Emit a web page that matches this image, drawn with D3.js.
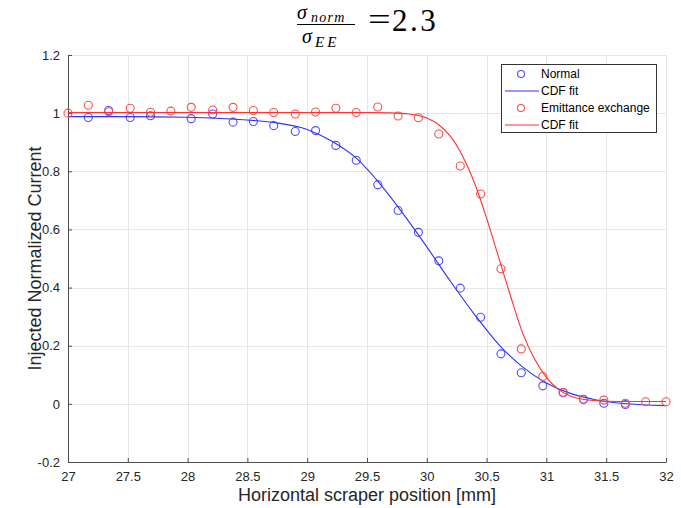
<!DOCTYPE html>
<html>
<head>
<meta charset="utf-8">
<script src="https://cdn.jsdelivr.net/npm/d3@7"></script>
<style>
  html, body { margin: 0; padding: 0; background: #fff; }
  svg { display: block; }
</style>
</head>
<body>
<svg id="chart" width="681" height="508"></svg>
<script>
// ---------- data ----------
const xTicks = [27, 27.5, 28, 28.5, 29, 29.5, 30, 30.5, 31, 31.5, 32];
const xTickLabels = ["27", "27.5", "28", "28.5", "29", "29.5", "30", "30.5", "31", "31.5", "32"];
const yTicks = [-0.2, 0, 0.2, 0.4, 0.6, 0.8, 1, 1.2];
const yTickLabels = ["-0.2", "0", "0.2", "0.4", "0.6", "0.8", "1", "1.2"];

// Normal (blue circles)
const normalX = [27.17, 27.34, 27.52, 27.69, 28.03, 28.21, 28.38, 28.55, 28.72, 28.9, 29.07, 29.24, 29.41,
                 29.59, 29.76, 29.93, 30.1, 30.28, 30.45, 30.62, 30.79, 30.97, 31.14, 31.31, 31.48, 31.66];
const normalY = [0.985, 1.009, 0.985, 0.991, 0.981, 0.997, 0.969, 0.971, 0.957, 0.937, 0.940, 0.889, 0.838,
                 0.754, 0.665, 0.590, 0.492, 0.398, 0.298, 0.172, 0.107, 0.062, 0.038, 0.016, 0.002, -0.002];

// Normal CDF fit (blue line)
const normalFitX = [27.0, 27.5, 28.0, 28.4, 28.72, 29.0, 29.2, 29.41, 29.6, 29.8, 30.0, 30.2, 30.4,
                    30.6, 30.8, 31.0, 31.2, 31.4, 31.6, 31.8, 32.0];
const normalFitY = [0.988, 0.988, 0.986, 0.979, 0.968, 0.944, 0.905, 0.845, 0.761, 0.655, 0.540, 0.420, 0.307,
                    0.205, 0.127, 0.072, 0.036, 0.015, 0.003, -0.003, -0.006];

// Emittance exchange (red circles)
const eeX = [27, 27.17, 27.34, 27.52, 27.69, 27.86, 28.03, 28.21, 28.38, 28.55, 28.72, 28.9, 29.07, 29.24, 29.41,
             29.59, 29.76, 29.93, 30.1, 30.28, 30.45, 30.62, 30.79, 30.97, 31.14, 31.31, 31.48, 31.66, 31.83, 32];
const eeY = [1.000, 1.027, 1.005, 1.017, 1.003, 1.007, 1.020, 1.011, 1.020, 1.009, 1.002, 0.997, 1.004, 1.017, 1.002,
             1.021, 0.990, 0.984, 0.928, 0.818, 0.722, 0.465, 0.189, 0.094, 0.040, 0.015, 0.013, 0.002, 0.007, 0.007];

// Emittance exchange CDF fit (red line)
const eeFitX = [27.0, 28.0, 29.0, 29.5, 29.7, 29.85, 30.0, 30.1, 30.2, 30.3, 30.4, 30.5, 30.6, 30.7,
                30.8, 30.9, 31.0, 31.1, 31.2, 31.35, 31.5, 31.75, 32.0];
const eeFitY = [1.002, 1.002, 1.002, 1.002, 1.001, 0.997, 0.983, 0.960, 0.919, 0.852, 0.759, 0.639, 0.505, 0.371,
                0.245, 0.155, 0.091, 0.050, 0.027, 0.013, 0.009, 0.008, 0.008];

const legendLabels = ["Normal", "CDF fit", "Emittance exchange", "CDF fit"];

// ---------- layout ----------
const W = 681, H = 508;
const m = { left: 68, right: W - 666, top: 55, bottom: H - 462 };
const blue = "#3030ff", red = "#ff3030";
const blueMk = "#4d4dff", redMk = "#ff4d4d";

const svg = d3.select("#chart");
svg.append("rect").attr("width", W).attr("height", H).attr("fill", "#fff");

const x = d3.scaleLinear().domain([27, 32]).range([m.left, W - m.right]);
const y = d3.scaleLinear().domain([-0.2, 1.2]).range([H - m.bottom, m.top]);

// grid
const grid = svg.append("g").attr("stroke", "#e6e6e6").attr("stroke-width", 1);
xTicks.forEach(t => grid.append("line")
  .attr("x1", Math.round(x(t)) + 0.5).attr("x2", Math.round(x(t)) + 0.5)
  .attr("y1", y(1.2)).attr("y2", y(-0.2)));
yTicks.forEach(t => grid.append("line")
  .attr("y1", Math.round(y(t)) + 0.5).attr("y2", Math.round(y(t)) + 0.5)
  .attr("x1", x(27)).attr("x2", x(32)));

// axes
const axisColor = "#4d4d4d";
const xAxis = d3.axisBottom(x).tickValues(xTicks).tickFormat((d, i) => xTickLabels[i])
  .tickSizeInner(-4).tickSizeOuter(0).tickPadding(10);
const yAxis = d3.axisLeft(y).tickValues(yTicks).tickFormat((d, i) => yTickLabels[i])
  .tickSizeInner(-4).tickSizeOuter(0).tickPadding(8);

const gx = svg.append("g").attr("transform", `translate(0,${H - m.bottom})`).call(xAxis);
const gy = svg.append("g").attr("transform", `translate(${m.left},0)`).call(yAxis);
[gx, gy].forEach(g => {
  g.select(".domain").attr("stroke", axisColor);
  g.selectAll(".tick line").attr("stroke", axisColor);
  g.selectAll(".tick text").attr("fill", "#262626")
    .style("font-family", "Liberation Sans, Arial, sans-serif").style("font-size", "13px");
});

// clip
svg.append("clipPath").attr("id", "clip").append("rect")
  .attr("x", m.left).attr("y", m.top).attr("width", x(32) - x(27)).attr("height", y(-0.2) - y(1.2));

const plot = svg.append("g");
const line = d3.line().x(d => x(d[0])).y(d => y(d[1])).curve(d3.curveMonotoneX);

// Normal markers
plot.selectAll("circle.normal").data(d3.zip(normalX, normalY)).join("circle")
  .attr("class", "normal").attr("cx", d => x(d[0])).attr("cy", d => y(d[1])).attr("r", 4)
  .attr("fill", "none").attr("stroke", blueMk).attr("stroke-width", 1.1);
// Normal fit
plot.append("path").datum(d3.zip(normalFitX, normalFitY)).attr("d", line)
  .attr("fill", "none").attr("stroke", blue).attr("stroke-width", 1.1).attr("clip-path", "url(#clip)");
// EE markers
plot.selectAll("circle.ee").data(d3.zip(eeX, eeY)).join("circle")
  .attr("class", "ee").attr("cx", d => x(d[0])).attr("cy", d => y(d[1])).attr("r", 4)
  .attr("fill", "none").attr("stroke", redMk).attr("stroke-width", 1.1);
// EE fit
plot.append("path").datum(d3.zip(eeFitX, eeFitY)).attr("d", line)
  .attr("fill", "none").attr("stroke", red).attr("stroke-width", 1.1).attr("clip-path", "url(#clip)");

// axis labels
svg.append("text").attr("x", (x(27) + x(32)) / 2).attr("y", 501).attr("text-anchor", "middle")
  .style("font-family", "Liberation Sans, Arial, sans-serif").style("font-size", "18px").attr("fill", "#262626")
  .text("Horizontal scraper position [mm]");
svg.append("text").attr("transform", `translate(41,${(y(1.2) + y(-0.2)) / 2}) rotate(-90)`)
  .attr("text-anchor", "middle")
  .style("font-family", "Liberation Sans, Arial, sans-serif").style("font-size", "18px").attr("fill", "#262626")
  .text("Injected Normalized Current");

// legend
const lg = svg.append("g");
lg.append("rect").attr("x", 501.5).attr("y", 64.5).attr("width", 155).attr("height", 68)
  .attr("fill", "#fff").attr("stroke", "#333").attr("stroke-width", 1);
const rowY = [74, 91, 108, 125];
const kinds = ["mk", "ln", "mk", "ln"];
const cols = [blueMk, blue, redMk, red];
legendLabels.forEach((lab, i) => {
  if (kinds[i] === "mk") {
    lg.append("circle").attr("cx", 521).attr("cy", rowY[i]).attr("r", 3.5)
      .attr("fill", "none").attr("stroke", cols[i]).attr("stroke-width", 1.1);
  } else {
    lg.append("line").attr("x1", 505).attr("x2", 539).attr("y1", rowY[i]).attr("y2", rowY[i])
      .attr("stroke", cols[i]).attr("stroke-width", 1.1);
  }
  lg.append("text").attr("x", 541).attr("y", rowY[i] + 4.2)
    .style("font-family", "Liberation Sans, Arial, sans-serif").style("font-size", "12px").attr("fill", "#000")
    .text(lab);
});

// title: sigma_norm / sigma_EE = 2.3
const tt = svg.append("g").style("font-family", "Liberation Serif, Times New Roman, serif").attr("fill", "#000");
tt.append("text").attr("x", 297).attr("y", 19).style("font-style", "italic").style("font-size", "20px").text("σ");
tt.append("text").attr("x", 311).attr("y", 22).style("font-style", "italic").style("font-size", "14px")
  .style("letter-spacing", "1.3px").text("norm");
tt.append("line").attr("x1", 297).attr("x2", 355).attr("y1", 24.5).attr("y2", 24.5)
  .attr("stroke", "#000").attr("stroke-width", 1.2);
tt.append("text").attr("x", 302).attr("y", 43).style("font-style", "italic").style("font-size", "20px").text("σ");
tt.append("text").attr("x", 315).attr("y", 47).style("font-style", "italic").style("font-size", "15px")
  .style("letter-spacing", "3px").text("EE");
tt.append("text").attr("transform", "translate(368,30) scale(1.3,1)").style("font-size", "31px").text("=");
tt.append("text").attr("x", 392).attr("y", 31).style("font-size", "31px").style("letter-spacing", "2.5px").text("2.3");
</script>
</body>
</html>
